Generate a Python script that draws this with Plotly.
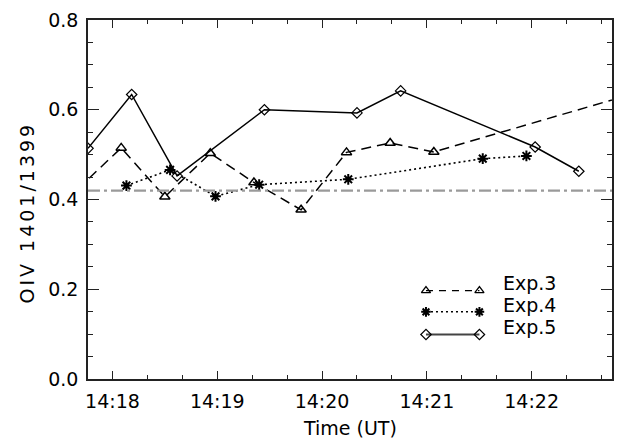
import plotly.graph_objects as go

DAY = "2014-01-01 "

# ---- data ----
exp3_times = ["14:17:40", "14:18:05", "14:18:30", "14:18:56", "14:19:21", "14:19:48",
              "14:20:14", "14:20:39", "14:21:04", "14:22:54"]
exp3_vals = [0.423, 0.515, 0.406, 0.503, 0.438, 0.377, 0.505, 0.526, 0.506, 0.631]

exp4_times = ["14:18:08", "14:18:33", "14:18:59", "14:19:24", "14:20:15", "14:21:32", "14:21:57"]
exp4_vals = [0.431, 0.466, 0.407, 0.433, 0.445, 0.491, 0.497]

exp5_times = ["14:17:46", "14:18:11", "14:18:37", "14:19:27", "14:20:20", "14:20:45",
              "14:22:02", "14:22:27"]
exp5_vals = [0.514, 0.634, 0.4525, 0.600, 0.593, 0.642, 0.517, 0.463]

ref_level = 0.42
x_range = ["14:17:46", "14:22:46"]
y_range = [0.0, 0.8]
y_ticks = [0.0, 0.2, 0.4, 0.6, 0.8]
y_ticklabels = ["0.0", "0.2", "0.4", "0.6", "0.8"]
series_names = ["Exp.3", "Exp.4", "Exp.5"]
x_title = "Time (UT)"
y_title = "OIV 1401/1399"

FONT = "DejaVu Sans"
FS = 19

def t(lst):
    return [DAY + s for s in lst]

fig = go.Figure()

fig.add_hline(y=ref_level, line=dict(color="#9a9a9a", width=2.2, dash="12px,4px,3px,4px"))

fig.add_trace(go.Scatter(
    x=t(exp3_times), y=exp3_vals, mode="lines+markers", name=series_names[0],
    line=dict(color="black", width=1.5, dash="10px,6px"),
    marker=dict(symbol="triangle-up-open", size=9, color="black", line=dict(width=1.5)),
    showlegend=False))
fig.add_trace(go.Scatter(
    x=t(exp4_times), y=exp4_vals, mode="lines+markers", name=series_names[1],
    line=dict(color="black", width=1.6, dash="2px,3px"),
    marker=dict(symbol="asterisk-open", size=9, color="black", line=dict(width=2, color="black")),
    showlegend=False))
fig.add_trace(go.Scatter(
    x=t(exp5_times), y=exp5_vals, mode="lines+markers", name=series_names[2],
    line=dict(color="black", width=1.5),
    marker=dict(symbol="diamond-open", size=8, color="black", line=dict(width=1.2)),
    showlegend=False))

# ---- hand-drawn legend (IDL style: symbol at both ends) ----
leg_x = [0.645, 0.747]
leg_y = [0.246, 0.187, 0.124]
leg_txt_x = 0.788
leg_txt_y = [0.267, 0.206, 0.144]
leg_styles = [
    (dict(color="black", width=1.3, dash="7px,6px"), dict(symbol="triangle-up-open", size=8, color="black", line=dict(width=1.3))),
    (dict(color="black", width=1.5, dash="2px,3px"), dict(symbol="asterisk-open", size=8, color="black", line=dict(width=2, color="black"))),
    (dict(color="#444", width=1.8), dict(symbol="diamond-open", size=8, color="black", line=dict(width=1.2))),
]
for i, (ln, mk) in enumerate(leg_styles):
    fig.add_trace(go.Scatter(x=leg_x, y=[leg_y[i]] * 2, xaxis="x2", yaxis="y2",
                             mode="lines+markers", line=ln, marker=mk, showlegend=False,
                             cliponaxis=False, hoverinfo="skip"))
    fig.add_annotation(x=leg_txt_x, y=leg_txt_y[i], xref="paper", yref="paper",
                       text=series_names[i], showarrow=False, xanchor="left", yanchor="middle",
                       font=dict(family=FONT, size=FS, color="black"))

# axis titles placed as annotations (pixel offsets from the plot area)
fig.add_annotation(x=0.5, y=0, xref="paper", yref="paper", yshift=-49, text=x_title,
                   showarrow=False, xanchor="center", yanchor="middle",
                   font=dict(family=FONT, size=FS, color="black"))
fig.add_annotation(x=0, y=0.5, xref="paper", yref="paper", xshift=-62, yshift=-13,
                   text='<span style="letter-spacing:3px">' + y_title + '</span>',
                   textangle=-90, showarrow=False, xanchor="center", yanchor="middle",
                   font=dict(family=FONT, size=FS, color="black"))

axis_common = dict(showgrid=False, zeroline=False, showline=True, linecolor="#222", linewidth=1.5,
                   mirror="allticks", ticks="inside", tickcolor="#222", tickwidth=1.2,
                   ticklabeloverflow="allow",
                   tickfont=dict(family=FONT, size=FS, color="black"))

fig.update_layout(
    width=625, height=444,
    margin=dict(l=88, r=13, t=9, b=65),
    paper_bgcolor="white", plot_bgcolor="white",
    font=dict(family=FONT, size=FS, color="black"),
    xaxis=dict(**axis_common, type="date", range=t(x_range),
               tick0=DAY + "14:18:00", dtick=60000, tickformat="%H:%M", ticklen=8,
               minor=dict(dtick=20000, ticklen=4, ticks="inside", tickcolor="#222", tickwidth=1.2),
               ticklabelstandoff=4),
    yaxis=dict(**axis_common, range=y_range, tickmode="array", tickvals=y_ticks,
               ticktext=y_ticklabels, ticklen=11,
               minor=dict(dtick=0.05, ticklen=5, ticks="inside", tickcolor="#222", tickwidth=1.2),
               ticklabelstandoff=4),
    xaxis2=dict(overlaying="x", range=[0, 1], visible=False),
    yaxis2=dict(overlaying="y", range=[0, 1], visible=False),
)

fig.write_html("out.html")
